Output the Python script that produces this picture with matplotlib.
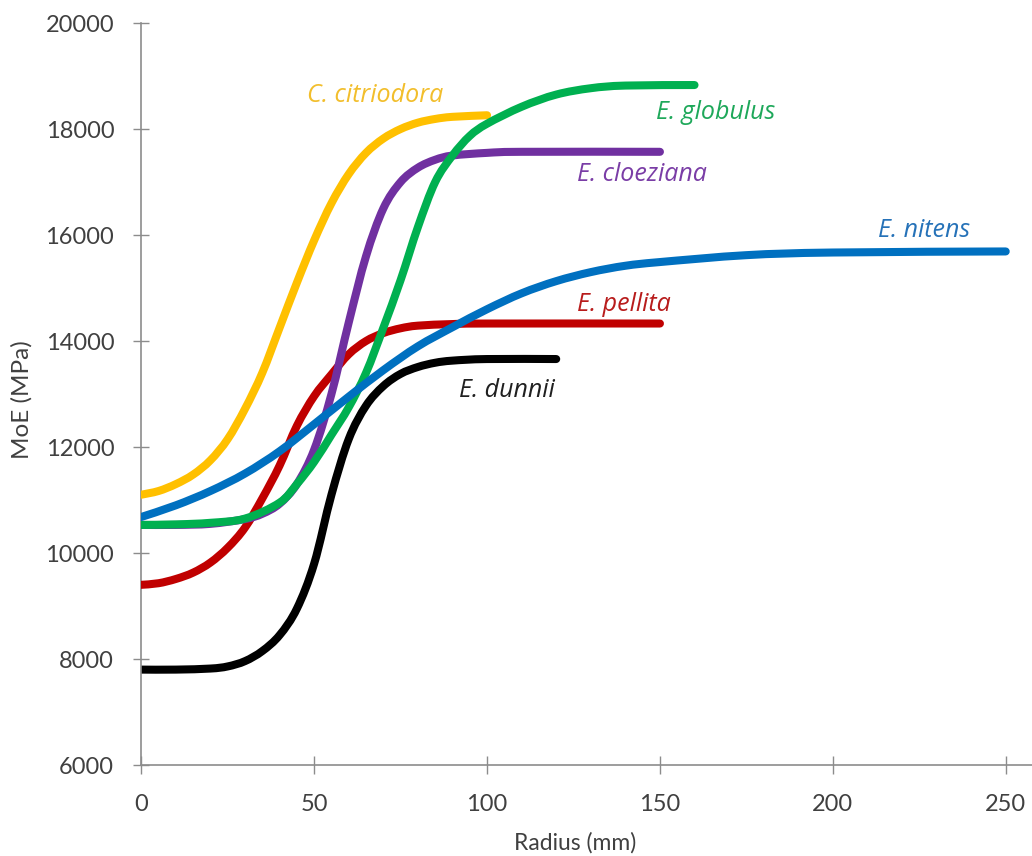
import matplotlib
matplotlib.use("Agg")
import matplotlib.pyplot as plt
import numpy as np
from matplotlib.path import Path
from matplotlib.patches import PathPatch

# ---- data (radius in mm, MoE in MPa) ----
citriodora_x = [0, 5, 10, 15, 20, 25, 30, 35, 40, 45, 50, 55, 60, 65, 70, 75, 80, 85, 90, 100]
citriodora_y = [11100, 11170, 11300, 11480, 11750, 12150, 12720, 13400, 14250, 15100, 15900,
                16600, 17150, 17550, 17820, 18000, 18120, 18190, 18230, 18260]

globulus_x = [0, 10, 20, 30, 40, 45, 50, 55, 60, 65, 70, 75, 80, 85, 90, 95, 100, 110, 120, 130, 140, 160]
globulus_y = [10530, 10540, 10570, 10650, 10950, 11300, 11720, 12230, 12750, 13400, 14250, 15150,
              16150, 17000, 17500, 17870, 18100, 18420, 18650, 18770, 18820, 18830]

cloeziana_x = [0, 10, 20, 30, 35, 40, 45, 50, 55, 60, 65, 70, 75, 80, 85, 90, 100, 110, 150]
cloeziana_y = [10530, 10530, 10550, 10640, 10740, 10930, 11300, 11950, 13000, 14350, 15600,
               16500, 17000, 17270, 17420, 17500, 17550, 17570, 17570]

nitens_x = [0, 10, 20, 30, 40, 50, 60, 70, 80, 90, 100, 110, 120, 130, 140, 150, 175, 200, 250]
nitens_y = [10680, 10900, 11170, 11500, 11920, 12430, 12950, 13450, 13900, 14260, 14600, 14900,
            15130, 15300, 15420, 15490, 15620, 15670, 15690]

pellita_x = [0, 5, 10, 15, 20, 25, 30, 35, 40, 45, 50, 55, 60, 65, 70, 75, 80, 90, 100, 150]
pellita_y = [9400, 9430, 9510, 9630, 9820, 10100, 10480, 11030, 11650, 12400, 12960, 13370,
             13750, 14000, 14150, 14240, 14290, 14320, 14330, 14330]

dunnii_x = [0, 10, 20, 25, 30, 35, 40, 45, 50, 55, 60, 65, 70, 75, 80, 85, 90, 100, 120]
dunnii_y = [7800, 7800, 7820, 7860, 7960, 8150, 8450, 8950, 9800, 11100, 12150, 12780,
            13150, 13380, 13510, 13590, 13630, 13660, 13660]

species = ["C. citriodora", "E. globulus", "E. cloeziana", "E. nitens", "E. pellita", "E. dunnii"]
x_ticks = [0, 50, 100, 150, 200, 250]
y_ticks = [6000, 8000, 10000, 12000, 14000, 16000, 18000, 20000]

# ---- style ----
plt.rcParams['font.family'] = ['Lato', 'DejaVu Sans']
text_col = "#404040"
axis_col = "#8c8c8c"

fig = plt.figure(figsize=(10.32, 8.56), dpi=100)
ax = fig.add_axes([0.1369, 0.1063, 0.8631, 0.8668])


def smooth_line(ax, xs, ys, color, lw, z):
    """Draw a smoothed (Catmull-Rom / Bezier) line through the data points,
    like a spreadsheet 'smoothed line' chart."""
    p = np.column_stack([xs, ys]).astype(float)
    n = len(p)
    verts = [tuple(p[0])]
    codes = [Path.MOVETO]
    for i in range(n - 1):
        p0 = p[i - 1] if i > 0 else p[i]
        p1, p2 = p[i], p[i + 1]
        p3 = p[i + 2] if i + 2 < n else p[i + 1]
        c1 = p1 + (p2 - p0) / 6.0
        c2 = p2 - (p3 - p1) / 6.0
        verts += [tuple(c1), tuple(c2), tuple(p2)]
        codes += [Path.CURVE4] * 3
    patch = PathPatch(Path(verts, codes), facecolor='none', edgecolor=color, lw=lw,
                      capstyle='round', joinstyle='round', zorder=z,
                      transform=ax.transData)
    ax.add_patch(patch)


lw = 5.8
series = [
    (dunnii_x, dunnii_y, "#000000", 2),
    (citriodora_x, citriodora_y, "#FFC000", 3),
    (pellita_x, pellita_y, "#C00000", 4),
    (cloeziana_x, cloeziana_y, "#7030A0", 5),
    (globulus_x, globulus_y, "#00B050", 6),
    (nitens_x, nitens_y, "#0070C0", 7),
]
for xs, ys, c, z in series:
    smooth_line(ax, xs, ys, c, lw, z)

# labels
lab_font = ['Open Sans', 'DejaVu Sans']
lab_fs = 18
lab_pos = [(48, 18640), (149, 18320), (126, 17150), (213, 16090), (126, 14680), (92, 13075)]
lab_col = ["#F2BE2C", "#1EA85A", "#7A3DA6", "#2672B8", "#B81C1C", "#202020"]
for name, (lx, ly), c in zip(species, lab_pos, lab_col):
    ax.text(lx, ly, name, color=c, style='italic', fontsize=lab_fs, family=lab_font,
            va='center', ha='left', zorder=10)

ax.set_xlim(0, 257.6)
ax.set_ylim(6000, 20000)
ax.set_xticks(x_ticks)
ax.set_yticks(y_ticks)
ax.tick_params(axis='x', direction='inout', length=13.5, width=1, color=axis_col,
               labelsize=17, labelcolor=text_col, pad=14)
ax.tick_params(axis='y', direction='inout', length=11, width=1, color=axis_col,
               labelsize=17, labelcolor=text_col, pad=14)
for s in ['top', 'right']:
    ax.spines[s].set_visible(False)
for s in ['left', 'bottom']:
    ax.spines[s].set_color(axis_col)
    ax.spines[s].set_linewidth(1.2)

ax.set_xlabel("Radius (mm)", fontsize=16.5, color=text_col)
ax.set_ylabel("MoE (MPa)", fontsize=17.5, color=text_col)
# place axis labels where the reference has them
ax.xaxis.set_label_coords((575 - 141.3) / (1032 - 141.3), -(843 - 765) / 742, transform=ax.transAxes)
ax.xaxis.label.set_va('center')
ax.yaxis.set_label_coords(-(141.3 - 22) / (1032 - 141.3), (765 - 400) / 742, transform=ax.transAxes)
ax.yaxis.label.set_va('center')

fig.savefig("out.png", dpi=100)
